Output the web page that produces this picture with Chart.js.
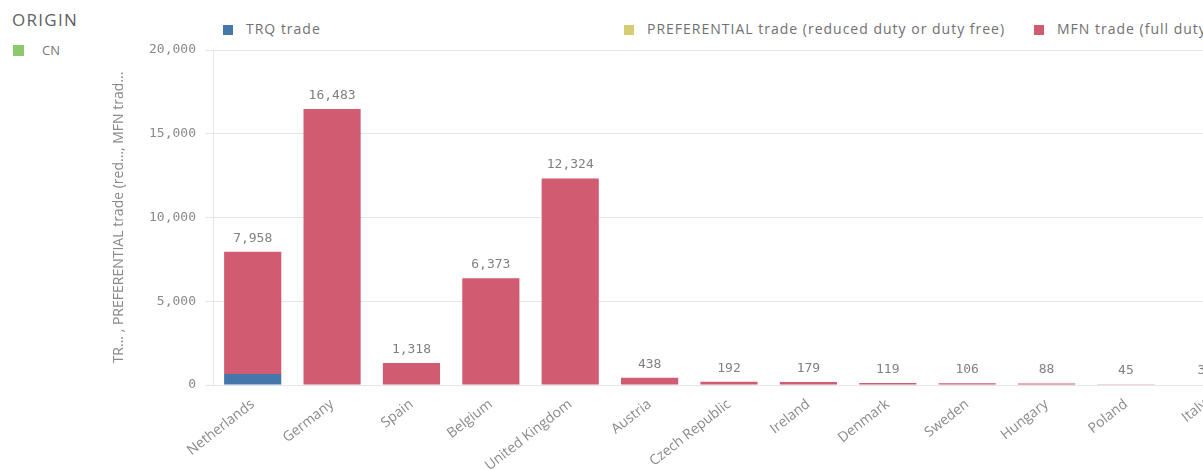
<!DOCTYPE html>
<html>
<head>
<meta charset="utf-8">
<script src="https://cdn.jsdelivr.net/npm/chart.js@4"></script>
<style>
  html, body { margin: 0; padding: 0; background: #fff; overflow: hidden; }
  body { width: 1203px; height: 470px; position: relative; font-family: "Open Sans", sans-serif; }
  #origin { position: absolute; left: 12px; top: 8px; color: #606060; font-size: 17px; letter-spacing: 1.3px; }
  #originItem { position: absolute; left: 13px; top: 41px; color: #777; font-size: 13px; }
  #originItem .sw { width: 11px; height: 11px; margin-right: 18px; }
  .sw { display: inline-block; width: 10px; height: 10px; margin-right: 13px; vertical-align: -1px; }
  .leg { position: absolute; top: 19px; color: #707070; font-size: 14px; letter-spacing: 1px; white-space: nowrap; }
  #wrap { position: absolute; left: 0; top: 0; width: 1255px; height: 470px; }
</style>
</head>
<body>
<div id="origin">ORIGIN</div>
<div id="originItem"><span class="sw" style="background:#8cc86c"></span>CN</div>
<div id="legend"></div>
<div id="wrap"><canvas id="chart"></canvas></div>
<script>
const countries = ["Netherlands", "Germany", "Spain", "Belgium", "United Kingdom", "Austria",
  "Czech Republic", "Ireland", "Denmark", "Sweden", "Hungary", "Poland", "Italy"];
const trqTrade = [650, 0, 0, 0, 0, 0, 0, 0, 0, 0, 0, 0, 0];
const prefTrade = [0, 0, 0, 0, 0, 0, 0, 0, 0, 0, 0, 0, 0];
const mfnTrade = [7308, 16483, 1318, 6373, 12324, 438, 192, 179, 119, 106, 88, 45, 34];
const yTicks = [0, 5000, 10000, 15000, 20000];

const seriesNames = ["TRQ trade", "PREFERENTIAL trade (reduced duty or duty free)", "MFN trade (full duty)"];
const seriesColors = ["#4477aa", "#d6cc70", "#d15b70"];
const legendX = [223, 624, 1034];

// HTML legend spread across the top like the original
const legend = document.getElementById("legend");
seriesNames.forEach((name, i) => {
  const d = document.createElement("div");
  d.className = "leg";
  d.style.left = legendX[i] + "px";
  d.innerHTML = '<span class="sw" style="background:' + seriesColors[i] + '"></span>' + name;
  legend.appendChild(d);
});

const monoFont = { family: "DejaVu Sans Mono, monospace", size: 13 };

// draws the total above each stack
const totalLabels = {
  id: "totalLabels",
  afterDatasetsDraw(chart) {
    const ctx = chart.ctx;
    const metas = chart.data.datasets.map((d, i) => chart.getDatasetMeta(i));
    ctx.save();
    ctx.font = monoFont.size + "px " + monoFont.family;
    ctx.fillStyle = "#808080";
    ctx.textAlign = "center";
    ctx.textBaseline = "bottom";
    countries.forEach((c, i) => {
      const total = trqTrade[i] + prefTrade[i] + mfnTrade[i];
      let top = Infinity;
      metas.forEach((m) => { top = Math.min(top, m.data[i].y); });
      ctx.fillText(total.toLocaleString("en-US"), metas[0].data[i].x, top - 7);
    });
    ctx.restore();
  },
};

new Chart(document.getElementById("chart"), {
  type: "bar",
  data: {
    labels: countries,
    datasets: [
      { label: seriesNames[0], data: trqTrade, backgroundColor: seriesColors[0] },
      { label: seriesNames[1], data: prefTrade, backgroundColor: seriesColors[1] },
      { label: seriesNames[2], data: mfnTrade, backgroundColor: seriesColors[2] },
    ],
  },
  options: {
    responsive: true,
    maintainAspectRatio: false,
    animation: false,
    layout: { padding: { left: 111, top: 50, right: 10, bottom: 0 } },
    datasets: { bar: { categoryPercentage: 1, barPercentage: 0.72 } },
    plugins: {
      legend: { display: false },
      tooltip: { enabled: false },
    },
    scales: {
      x: {
        stacked: true,
        afterFit: (scale) => { scale.height = 85; },
        grid: { display: false },
        border: { display: false },
        ticks: {
          minRotation: 38,
          maxRotation: 38,
          color: "#8a8a8a",
          font: { family: "Open Sans, sans-serif", size: 14 },
        },
      },
      y: {
        stacked: true,
        min: 0,
        max: 20000,
        afterBuildTicks: (scale) => { scale.ticks = yTicks.map((v) => ({ value: v })); },
        afterFit: (scale) => { scale.width = 102; },
        grid: { color: "#e6e6e6", tickLength: 8 },
        border: { display: true, color: "#e6e6e6" },
        ticks: {
          color: "#8a8a8a",
          font: monoFont,
          padding: 9,
          callback: (v) => v.toLocaleString("en-US"),
        },
        title: {
          display: true,
          text: "TR... , PREFERENTIAL trade (red..., MFN trad...",
          color: "#8a8a8a",
          font: { family: "Open Sans, sans-serif", size: 14 },
          padding: { top: 0, bottom: 0 },
        },
      },
    },
  },
  plugins: [totalLabels],
});
</script>
</body>
</html>
